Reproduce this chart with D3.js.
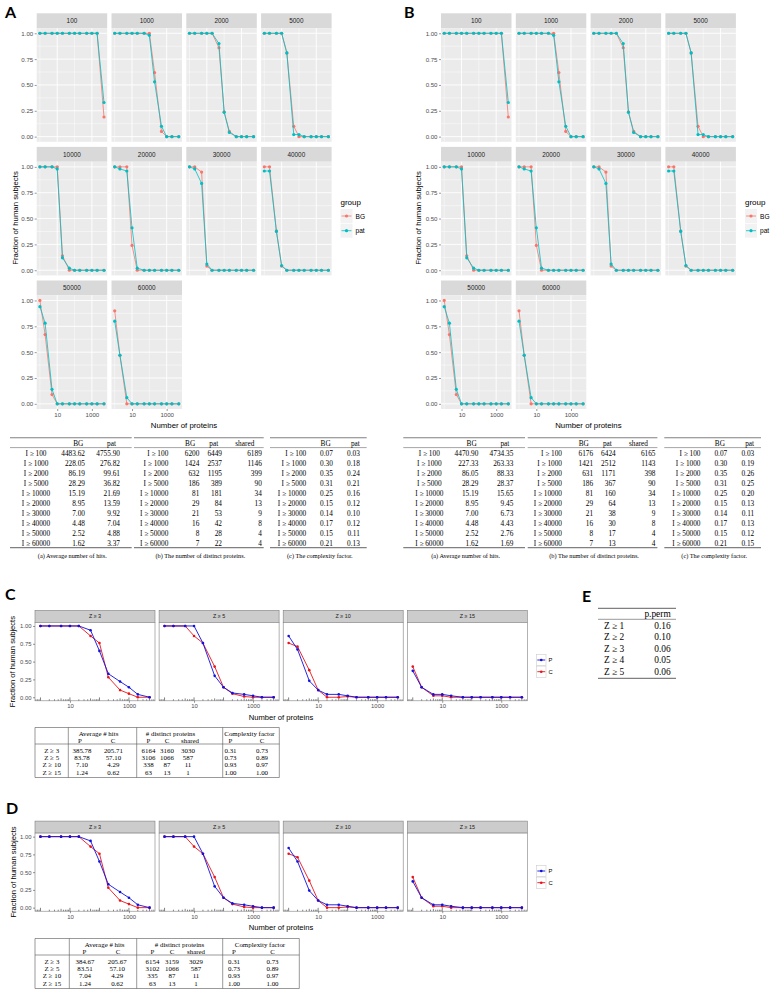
<!DOCTYPE html>
<html><head><meta charset="utf-8">
<script src="https://cdn.jsdelivr.net/npm/d3@7/dist/d3.min.js"></script>
<style>body{margin:0;background:#fff}</style>
</head><body>
<svg id="fig" width="775" height="1008"></svg>
<script>
// ================= DATA =================
const proteinThresholds = [1,2,5,10,20,50,100,200,500,1000,2000,5000];
const intensityFacets = ["100","1000","2000","5000","10000","20000","30000","40000","50000","60000"];
const groupNames = ["BG","pat"];
const bgFraction = [
  [1,1,1,1,1,1,1,1,1,1,1,0.19],
  [1,1,1,1,1,1,1,0.62,0.05,0,0,0],
  [1,1,1,1,1,0.86,0.24,0.05,0,0,0,0],
  [1,1,1,1,0.81,0.10,0,0,0,0,0,0],
  [1,1,1,1,0.14,0,0,0,0,0,0,0],
  [1,1,1,0.24,0,0,0,0,0,0,0,0],
  [1,1,0.95,0.04,0,0,0,0,0,0,0,0],
  [1,1,0.38,0.04,0,0,0,0,0,0,0,0],
  [1,0.67,0.09,0,0,0,0,0,0,0,0,0],
  [0.90,0.47,0,0,0,0,0,0,0,0,0,0]
];
const patFraction = [
  [1,1,1,1,1,1,1,1,1,1,1,0.33],
  [1,1,1,1,1,1,0.98,0.53,0.10,0,0,0],
  [1,1,1,1,1,0.90,0.235,0.04,0,0,0,0],
  [1,1,1,1,0.81,0.02,0.02,0,0,0,0,0],
  [1,1,1,0.98,0.12,0.02,0,0,0,0,0,0],
  [1,0.98,0.96,0.41,0.02,0,0,0,0,0,0,0],
  [1,0.98,0.84,0.06,0,0,0,0,0,0,0,0],
  [0.96,0.96,0.375,0.045,0,0,0,0,0,0,0,0],
  [0.94,0.78,0.14,0,0,0,0,0,0,0,0,0],
  [0.80,0.47,0.06,0,0,0,0,0,0,0,0,0]
];
const zFacets = ["Z ≥ 3","Z ≥ 5","Z ≥ 10","Z ≥ 15"];
const pcNames = ["P","C"];
const pFractionC = [
  [1,1,1,1,1,0.94,0.65,0.33,0.22,0.14,0.04,0],
  [1,1,1,1,0.76,0.30,0.14,0.06,0.04,0.02,0,0],
  [0.86,0.67,0.23,0.10,0.04,0.04,0.02,0,0,0,0,0],
  [0.37,0.14,0.04,0.04,0.02,0,0,0,0,0,0,0]
];
const cFractionC = [
  [1,1,1,1,1,0.86,0.76,0.28,0.10,0.05,0,0],
  [1,1,1,0.86,0.76,0.43,0.14,0.05,0.01,0,0,0],
  [0.76,0.71,0.38,0.10,0,0,0.01,0,0,0,0,0],
  [0.43,0.14,0.02,0.02,0,0,0,0,0,0,0,0]
];
const pFractionD = [
  [1,1,1,1,1,0.94,0.65,0.33,0.22,0.14,0.04,0],
  [1,1,1,1,0.76,0.30,0.14,0.06,0.04,0.02,0,0],
  [0.84,0.65,0.24,0.10,0.04,0.04,0.02,0,0,0,0,0],
  [0.37,0.14,0.04,0.04,0.02,0,0,0,0,0,0,0]
];
const cFractionD = [
  [1,1,1,1,1,0.86,0.76,0.28,0.10,0.05,0,0],
  [1,1,1,0.86,0.76,0.43,0.14,0.05,0.01,0,0,0],
  [0.76,0.71,0.38,0.10,0,0,0.01,0,0,0,0,0],
  [0.43,0.14,0.02,0.02,0,0,0,0,0,0,0,0]
];
// tables A / B
const intensityRows = ["I ≥ 100","I ≥ 1000","I ≥ 2000","I ≥ 5000","I ≥ 10000","I ≥ 20000","I ≥ 30000","I ≥ 40000","I ≥ 50000","I ≥ 60000"];
const hitsBG_A  = ["4483.62","228.05","86.19","28.29","15.19","8.95","7.00","4.48","2.52","1.62"];
const hitsPat_A = ["4755.90","276.82","99.61","36.82","21.69","13.59","9.92","7.04","4.88","3.37"];
const distBG_A  = ["6200","1424","632","186","81","29","21","16","8","7"];
const distPat_A = ["6449","2537","1195","389","181","84","53","42","28","22"];
const shared_A  = ["6189","1146","399","90","34","13","9","8","4","4"];
const cfBG_A    = ["0.07","0.30","0.35","0.31","0.25","0.15","0.14","0.17","0.15","0.21"];
const cfPat_A   = ["0.03","0.18","0.24","0.21","0.16","0.12","0.10","0.12","0.11","0.13"];
const hitsBG_B  = ["4470.90","227.33","86.05","28.29","15.19","8.95","7.00","4.48","2.52","1.62"];
const hitsPat_B = ["4734.35","263.33","88.33","28.37","15.65","9.45","6.73","4.43","2.76","1.69"];
const distBG_B  = ["6176","1421","631","186","81","29","21","16","8","7"];
const distPat_B = ["6424","2512","1171","367","160","64","38","30","17","13"];
const shared_B  = ["6165","1143","398","90","34","13","9","8","4","4"];
const cfBG_B    = ["0.07","0.30","0.35","0.31","0.25","0.15","0.14","0.17","0.15","0.21"];
const cfPat_B   = ["0.03","0.19","0.26","0.25","0.20","0.13","0.11","0.13","0.12","0.15"];
const subCaptions = ["(a) Average number of hits.","(b) The number of distinct proteins.","(c) The complexity factor."];
// tables C / D
const zRows = ["Z ≥ 3","Z ≥ 5","Z ≥ 10","Z ≥ 15"];
const hitsP_C = ["385.78","83.78","7.10","1.24"], hitsC_C = ["205.71","57.10","4.29","0.62"];
const distP_C = ["6164","3106","338","63"], distC_C = ["3160","1066","87","13"], shared_C = ["3030","587","11","1"];
const cfP_C = ["0.31","0.73","0.93","1.00"], cfC_C = ["0.73","0.89","0.97","1.00"];
const hitsP_D = ["384.67","83.51","7.04","1.24"], hitsC_D = ["205.67","57.10","4.29","0.62"];
const distP_D = ["6154","3102","335","63"], distC_D = ["3159","1066","87","13"], shared_D = ["3029","587","11","1"];
const cfP_D = ["0.31","0.73","0.93","1.00"], cfC_D = ["0.73","0.89","0.97","1.00"];
// table E
const permRows = ["Z ≥ 1","Z ≥ 2","Z ≥ 3","Z ≥ 4","Z ≥ 5"];
const pPerm = ["0.16","0.10","0.06","0.05","0.06"];

// ================= DRAWING =================
const svg = d3.select("#fig");
svg.append("rect").attr("width",775).attr("height",1008).attr("fill","#fff");
const SANS = "Liberation Sans, Arial, sans-serif";
const SERIF = "Liberation Serif, Times New Roman, serif";

function txt(x,y,s,o={}){
  return svg.append("text").attr("x",x).attr("y",y).text(s)
    .attr("font-family",o.family||SANS).attr("font-size",o.size||6)
    .attr("fill",o.fill||"#000").attr("text-anchor",o.anchor||"start")
    .attr("dominant-baseline","central")
    .attr("font-weight",o.weight||"normal")
    .attr("transform",o.rotate?`rotate(${o.rotate},${x},${y})`:null);
}

const lx = d3.extent(proteinThresholds).map(Math.log10);
const xpad = 0.05*(lx[1]-lx[0]);
const xDomain = [Math.pow(10,lx[0]-xpad), Math.pow(10,lx[1]+xpad)];

function drawFacets(cfg){
  const x = d3.scaleLog().domain(xDomain).range([0,cfg.panelW]);
  const y = d3.scaleLinear().domain([-0.05,1.05]).range([cfg.panelH,0]);
  cfg.facets.forEach((lab,i)=>{
    const col = i % cfg.ncol, row = Math.floor(i/cfg.ncol);
    const px = cfg.x0 + col*cfg.colPitch, sy = cfg.rowTops[row], py = sy + cfg.stripH;
    const sg = svg.append("g").attr("transform",`translate(${px},${sy})`);
    sg.append("rect").attr("width",cfg.panelW).attr("height",cfg.stripH)
      .attr("fill",cfg.bw?"#CCCCCC":"#D9D9D9")
      .attr("stroke",cfg.bw?"#7F7F7F":"none").attr("stroke-width",0.6);
    sg.append("text").attr("x",cfg.panelW/2).attr("y",cfg.stripH/2).text(lab)
      .attr("font-family",SANS).attr("font-size",cfg.stripFont).attr("fill","#1A1A1A")
      .attr("text-anchor","middle").attr("dominant-baseline","central");
    const pg = svg.append("g").attr("transform",`translate(${px},${py})`);
    pg.append("rect").attr("width",cfg.panelW).attr("height",cfg.panelH)
      .attr("fill",cfg.bw?"#fff":"#EBEBEB");
    if(!cfg.bw){
      const gr = pg.append("g").attr("stroke","#fff");
      [0.125,0.375,0.625,0.875].forEach(v=>gr.append("line").attr("x1",0).attr("x2",cfg.panelW).attr("y1",y(v)).attr("y2",y(v)).attr("stroke-width",0.45));
      [1,100].forEach(v=>gr.append("line").attr("y1",0).attr("y2",cfg.panelH).attr("x1",x(v)).attr("x2",x(v)).attr("stroke-width",0.45));
      [0,0.25,0.5,0.75,1].forEach(v=>gr.append("line").attr("x1",0).attr("x2",cfg.panelW).attr("y1",y(v)).attr("y2",y(v)).attr("stroke-width",0.9));
      [10,1000].forEach(v=>gr.append("line").attr("y1",0).attr("y2",cfg.panelH).attr("x1",x(v)).attr("x2",x(v)).attr("stroke-width",0.9));
    } else {
      const lt = pg.append("g").attr("stroke","#000").attr("stroke-width",0.5);
      for(let k=-1;k<=4;k++) for(let m=1;m<=9;m++){
        const v = m*Math.pow(10,k);
        if(v<xDomain[0]||v>xDomain[1]) continue;
        const len = m===1?3.4:(m===5?2.4:1.5);
        lt.append("line").attr("x1",x(v)).attr("x2",x(v)).attr("y1",cfg.panelH).attr("y2",cfg.panelH-len);
      }
    }
    cfg.series.forEach(s=>{
      const pts = proteinThresholds.map((t,j)=>({x:t,y:s.values[i][j]}));
      pg.append("path").datum(pts).attr("fill","none").attr("stroke",s.color)
        .attr("stroke-width",cfg.lineW)
        .attr("d",d3.line().x(d=>x(d.x)).y(d=>y(d.y)));
      pg.selectAll(null).data(pts).enter().append("circle")
        .attr("cx",d=>x(d.x)).attr("cy",d=>y(d.y)).attr("r",cfg.ptR).attr("fill",s.color);
    });
    if(cfg.bw){
      pg.append("rect").attr("width",cfg.panelW).attr("height",cfg.panelH)
        .attr("fill","none").attr("stroke","#7F7F7F").attr("stroke-width",0.6);
    }
    if(col===0){
      const ax = pg.append("g").call(d3.axisLeft(y).tickValues([0,0.25,0.5,0.75,1]).tickFormat(d3.format(".2f")).tickSize(2).tickPadding(1.5));
      styleAxis(ax, cfg.tickFont);
    }
    if(cfg.bottomAxis.includes(i)){
      const ax = pg.append("g").attr("transform",`translate(0,${cfg.panelH})`)
        .call(d3.axisBottom(x).tickValues([10,1000]).tickFormat(d3.format("d")).tickSize(2).tickPadding(1.5));
      styleAxis(ax, cfg.tickFont);
    }
  });
}
function styleAxis(ax,fs){
  ax.select(".domain").remove();
  ax.selectAll(".tick line").attr("stroke","#333").attr("stroke-width",0.5);
  ax.selectAll(".tick text").attr("font-family",SANS).attr("font-size",fs).attr("fill","#4D4D4D");
}

const greyCfg = {ncol:4, colPitch:74.8, panelW:70.5, rowTops:[13.3,146.9,280.5], stripH:14.8, panelH:113.7,
  facets:intensityFacets, stripFont:6.4, tickFont:6.1, lineW:0.8, ptR:1.6, bottomAxis:[8,9], bw:false,
  series:[{values:bgFraction,color:"#F8766D"},{values:patFraction,color:"#00BFC4"}]};
drawFacets(Object.assign({},greyCfg,{x0:36.7}));
drawFacets(Object.assign({},greyCfg,{x0:441}));

function greyLegend(xk,ty){
  txt(xk,ty,"group",{size:8,fill:"#000"});
  const cols = ["#F8766D","#00BFC4"];
  groupNames.forEach((n,i)=>{
    const cy = ty+13.7+i*14.7;
    svg.append("rect").attr("x",xk).attr("y",cy-7).attr("width",12).attr("height",14).attr("fill","#F2F2F2");
    svg.append("line").attr("x1",xk+1).attr("x2",xk+11).attr("y1",cy).attr("y2",cy).attr("stroke",cols[i]).attr("stroke-width",0.8);
    svg.append("circle").attr("cx",xk+6).attr("cy",cy).attr("r",1.6).attr("fill",cols[i]);
    txt(xk+15,cy,n,{size:6.6,fill:"#000"});
  });
}
greyLegend(340.5,202.3);
greyLegend(745,202.3);

txt(184,425,"Number of proteins",{size:7.8,anchor:"middle"});
txt(588.4,425,"Number of proteins",{size:7.8,anchor:"middle"});
txt(15,218,"Fraction of human subjects",{size:7.8,anchor:"middle",rotate:-90});
txt(418.5,218,"Fraction of human subjects",{size:7.8,anchor:"middle",rotate:-90});

const bwCfg = {ncol:4, x0:35, colPitch:124.1, panelW:120, stripH:12,
  facets:zFacets, stripFont:5.4, tickFont:5.9, lineW:0.9, ptR:1.3, bottomAxis:[0,1,2,3], bw:true};
const PCOL = "#1010E0", CCOL = "#E8141A";
drawFacets(Object.assign({},bwCfg,{rowTops:[610.4],panelH:78.4,
  series:[{values:cFractionC,color:CCOL},{values:pFractionC,color:PCOL}]}));
drawFacets(Object.assign({},bwCfg,{rowTops:[821.1],panelH:78.1,
  series:[{values:cFractionD,color:CCOL},{values:pFractionD,color:PCOL}]}));
function bwLegend(xk,cy0){
  const cols=[PCOL,CCOL];
  pcNames.forEach((n,i)=>{
    const cy = cy0+i*11.7;
    svg.append("rect").attr("x",xk).attr("y",cy-5.6).attr("width",9.5).attr("height",11.2).attr("fill","#fff").attr("stroke","#CCCCCC").attr("stroke-width",0.6);
    svg.append("line").attr("x1",xk+0.8).attr("x2",xk+8.7).attr("y1",cy).attr("y2",cy).attr("stroke",cols[i]).attr("stroke-width",0.9);
    svg.append("circle").attr("cx",xk+4.75).attr("cy",cy).attr("r",1.3).attr("fill",cols[i]);
    txt(xk+12,cy,n,{size:5.8,fill:"#000"});
  });
}
bwLegend(536.5,660);
bwLegend(536.5,871);
txt(281,717.5,"Number of proteins",{size:7.6,anchor:"middle"});
txt(281,927,"Number of proteins",{size:7.6,anchor:"middle"});
txt(13,661.6,"Fraction of human subjects",{size:7.6,anchor:"middle",rotate:-90});
txt(13,872,"Fraction of human subjects",{size:7.6,anchor:"middle",rotate:-90});

[["A",5,11],["B",404,11],["C",5,593],["D",6,807],["E",582,595]].forEach(d=>
  txt(d[1],d[2],d[0],{family:"Lato, Open Sans, sans-serif",size:16,weight:"bold"}));

// ---------- tables A / B ----------
const TFS = 7.3;
function rule(x1,x2,y,w,c){svg.append("line").attr("x1",x1).attr("x2",x2).attr("y1",y).attr("y2",y).attr("stroke",c||"#808080").attr("stroke-width",w);}
function drawSubTables(lefts, cols){
  const top=437.7, head=443, mid=447.6, row0=453, dy=10.05, bot=547.6, cap=555.7;
  const specs = [
    {w:121.7, label:{x:26,a:"middle"}, heads:[["BG",73.4],["pat",106]], cols:[[cols.hitsBG,75],[cols.hitsPat,110]]},
    {w:129.7, label:{x:34.3,a:"end"}, heads:[["BG",61.2],["pat",84.2],["shared",120.3]], cols:[[cols.distBG,65.4],[cols.distPat,88],[cols.shared,127.8]]},
    {w:96.7, label:{x:36.2,a:"end"}, heads:[["BG",60.7],["pat",89.8]], cols:[[cols.cfBG,62.9],[cols.cfPat,89.9]]}
  ];
  specs.forEach((sp,k)=>{
    const L = lefts[k];
    rule(L,L+sp.w,top,1.1); rule(L,L+sp.w,mid,0.7); rule(L,L+sp.w,bot,1.1);
    sp.heads.forEach(h=>txt(L+h[1],head,h[0],{family:SERIF,size:TFS,anchor:"end"}));
    intensityRows.forEach((r,i)=>{
      const yy=row0+i*dy;
      txt(L+sp.label.x,yy,r,{family:SERIF,size:TFS,anchor:sp.label.a});
      sp.cols.forEach(c=>txt(L+c[1],yy,c[0][i],{family:SERIF,size:TFS,anchor:"end"}));
    });
    txt(L+sp.w/2+1.5,cap,subCaptions[k],{family:SERIF,size:6.3,anchor:"middle"});
  });
}
drawSubTables([10,134,270],{hitsBG:hitsBG_A,hitsPat:hitsPat_A,distBG:distBG_A,distPat:distPat_A,shared:shared_A,cfBG:cfBG_A,cfPat:cfPat_A});
drawSubTables([403.3,527.7,664.3],{hitsBG:hitsBG_B,hitsPat:hitsPat_B,distBG:distBG_B,distPat:distPat_B,shared:shared_B,cfBG:cfBG_B,cfPat:cfPat_B});

// ---------- tables C / D ----------
function gridTable(t){
  const fs=6.9, c="#555";
  const vl = x=>svg.append("line").attr("x1",x).attr("x2",x).attr("y1",t.top).attr("y2",t.bot).attr("stroke",c).attr("stroke-width",0.6);
  t.vlines.forEach(vl);
  [t.top,t.line,t.bot].forEach(yv=>svg.append("line").attr("x1",t.vlines[0]).attr("x2",t.vlines[t.vlines.length-1]).attr("y1",yv).attr("y2",yv).attr("stroke",c).attr("stroke-width",0.6));
  t.groups.forEach(g=>txt(g[1],t.h1,g[0],{family:SERIF,size:fs,anchor:"middle"}));
  t.subheads.forEach(g=>txt(g[1],t.h2,g[0],{family:SERIF,size:fs,anchor:"middle"}));
  zRows.forEach((r,i)=>{
    const yy=t.row0+i*t.dy;
    txt(t.labelX,yy,r,{family:SERIF,size:fs,anchor:"middle"});
    t.cols.forEach(cc=>txt(cc[1],yy,cc[0][i],{family:SERIF,size:fs,anchor:"middle"}));
  });
}
gridTable({top:727.5,h1:733,h2:740.5,line:744,row0:750.5,dy:7.2,bot:777.5,
  vlines:[35,68.3,136.7,222.7,279.3], labelX:51.7,
  groups:[["Average # hits",98.5],["# distinct proteins",170.5],["Complexity factor",249.5]],
  subheads:[["P",80],["C",113],["P",148.5],["C",167],["shared",190],["P",230.5],["C",262]],
  cols:[[hitsP_C,82],[hitsC_C,113.4],[distP_C,148.5],[distC_C,167],[shared_C,188],[cfP_C,230.5],[cfC_C,262]]});
gridTable({top:938.5,h1:944,h2:951.5,line:955,row0:961.5,dy:7.2,bot:988.5,
  vlines:[35,69.3,136.7,222.7,299.3], labelX:52,
  groups:[["Average # hits",104.7],["# distinct proteins",179.5],["Complexity factor",260]],
  subheads:[["P",84.5],["C",118],["P",152.5],["C",172],["shared",196],["P",234],["C",272.5]],
  cols:[[hitsP_D,85],[hitsC_D,117.2],[distP_D,152.5],[distC_D,172],[shared_D,196],[cfP_D,234],[cfC_D,272.5]]});

// ---------- table E ----------
rule(598,676,608.3,1.2); rule(598,676,619.3,0.8); rule(598,676,678.3,1.2);
txt(670.7,613.5,"p.perm",{family:SERIF,size:9.4,anchor:"end"});
permRows.forEach((r,i)=>{
  const yy=625.5+i*11.6;
  txt(604,yy,r,{family:SERIF,size:9.4});
  txt(670.7,yy,pPerm[i],{family:SERIF,size:9.4,anchor:"end"});
});
</script>
</body></html>
